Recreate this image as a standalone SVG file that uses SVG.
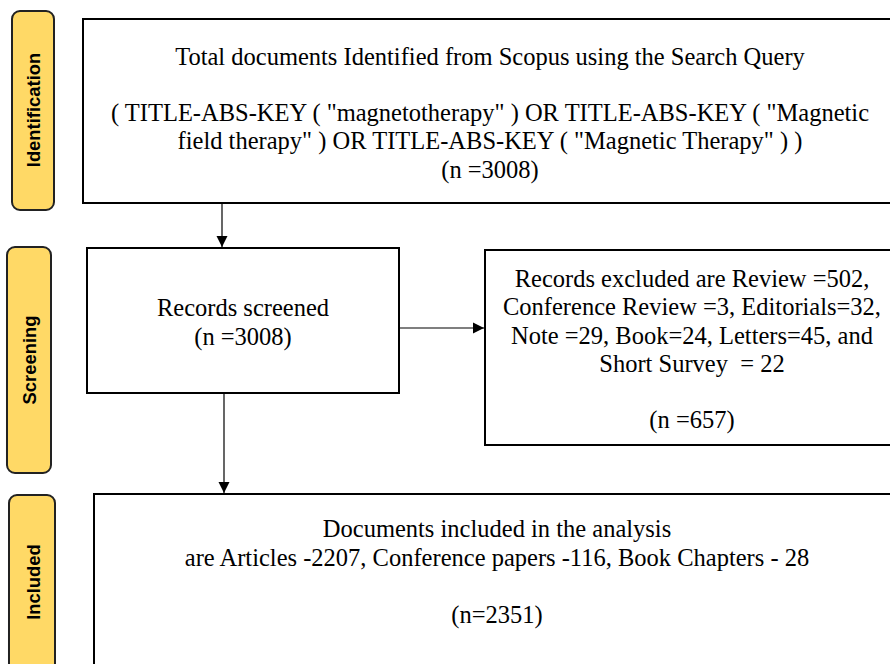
<svg xmlns="http://www.w3.org/2000/svg" width="890" height="664" viewBox="0 0 890 664">
<defs>
<style>
.lane{fill:#FFD966;stroke:#222;stroke-width:2}
.box{fill:#fff;stroke:#000;stroke-width:2}
.lt{font-family:"Liberation Sans",Arial,sans-serif;font-weight:bold;font-size:18.4px;fill:#000;text-anchor:middle}
.t{font-family:"Liberation Serif","Times New Roman",serif;font-size:24.5px;fill:#000;text-anchor:middle}
.c{stroke:#000;stroke-width:1.2;fill:none}
</style>
<marker id="ah" markerWidth="12" markerHeight="12" refX="11" refY="6" orient="auto" markerUnits="userSpaceOnUse">
<path d="M0,0.5 L11,6 L0,11.5 z" fill="#000"/>
</marker>
</defs>
<rect width="890" height="664" fill="#fff"/>
<g id="lane-identification">
<rect class="lane" x="12" y="11" width="42" height="199" rx="8"/>
<text class="lt" transform="translate(40,110) rotate(-90)">Identification</text>
</g>
<g id="lane-screening">
<rect class="lane" x="7" y="247" width="44" height="226" rx="8"/>
<text class="lt" transform="translate(36,360) rotate(-90)">Screening</text>
</g>
<g id="lane-included">
<rect class="lane" x="9" y="495" width="46" height="190" rx="8"/>
<text class="lt" transform="translate(40,582) rotate(-90)">Included</text>
</g>
<g id="identified">
<rect class="box" x="83" y="19" width="815" height="184"/>
<text class="t" x="490" y="65">Total documents Identified from Scopus using the Search Query</text>
<text class="t" x="490" y="121">( TITLE-ABS-KEY ( "magnetotherapy" ) OR TITLE-ABS-KEY ( "Magnetic</text>
<text class="t" x="490" y="149">field therapy" ) OR TITLE-ABS-KEY ( "Magnetic Therapy" ) )</text>
<text class="t" x="490" y="178">(n =3008)</text>
</g>
<g id="screened">
<rect class="box" x="87" y="248" width="312" height="145"/>
<text class="t" x="243" y="316">Records screened</text>
<text class="t" x="243" y="345">(n =3008)</text>
</g>
<g id="excluded">
<rect class="box" x="485" y="250" width="413" height="195"/>
<text class="t" x="692" y="287">Records excluded are Review =502,</text>
<text class="t" x="692" y="315">Conference Review =3, Editorials=32,</text>
<text class="t" x="692" y="344">Note =29, Book=24, Letters=45, and</text>
<text class="t" x="692" y="372" xml:space="preserve">Short Survey  = 22</text>
<text class="t" x="692" y="428">(n =657)</text>
</g>
<g id="included">
<rect class="box" x="94" y="494" width="804" height="190"/>
<text class="t" x="497" y="537">Documents included in the analysis</text>
<text class="t" x="497" y="566">are Articles -2207, Conference papers -116, Book Chapters - 28</text>
<text class="t" x="497" y="623">(n=2351)</text>
</g>
<g id="connectors">
<line class="c" x1="222" y1="204" x2="222" y2="247" marker-end="url(#ah)"/>
<line class="c" x1="224" y1="394" x2="224" y2="493" marker-end="url(#ah)"/>
<line class="c" x1="400" y1="328" x2="484" y2="328" marker-end="url(#ah)"/>
</g>
</svg>
